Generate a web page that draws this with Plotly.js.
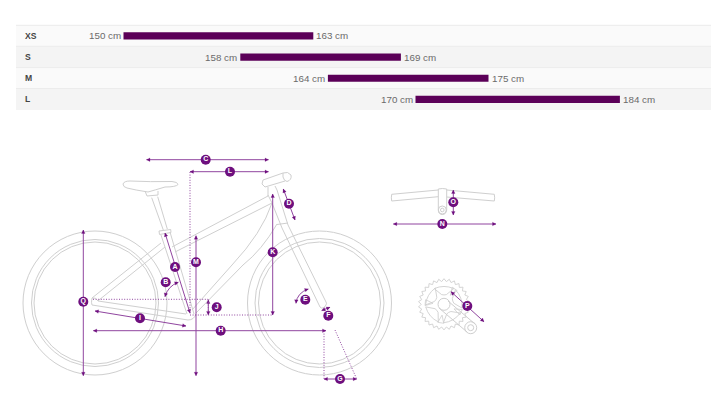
<!DOCTYPE html>
<html><head><meta charset="utf-8">
<script src="https://cdn.plot.ly/plotly-3.0.1.min.js"></script>
<style>html,body{margin:0;padding:0;background:#fff}#c{width:720px;height:407px}</style>
</head><body><div id="c"></div>
<script>
// ---- size chart data ----
const sizes = ['XS','S','M','L'];
const minHeight = [150,158,164,170];
const maxHeight = [163,169,175,184];
const unit = 'cm';

// ---- measurement callouts of the bike drawing ----
const letters = ['A','B','C','D','E','F','G','H','I','J','K','L','M','N','O','P','Q'];
const letterX = [175,165.7,205.7,289,305.3,328.3,340,220.7,140,216.7,272.7,230,196,442.3,453.3,467.3,83.3];
const letterY = [267,282.3,159.7,203.7,299.7,315.7,379,330.7,318.3,307.3,252.3,171.7,262.3,224,202.3,306,301.7];
// straight measure arrows: x1,y1,x2,y2, heads at both ends
const arrows = [
 [146.5,159.7,268.5,159.7],[190,171.7,268.5,171.7],[272.7,194,272.7,315],
 [283.3,189,295,220],[196,235.7,196,375.7],[83.3,230,83.3,375.7],
 [165,233,190,313],[95,311,186,326],[93.3,330.7,326,330.7],
 [208.3,300,208.3,315],[321.7,310.5,330,307.3],[324,379,356.7,379],
 [453.3,190,453.3,215],[393.3,224,496,224],[451,291.7,484,321.7]
];
const dottedLines = [
 [190,172,190,315],[190,315,272,315],[93,299.3,208,299.3],[208.3,299.3,208.3,312],
 [324,331,324,379],[335,330,356.7,379]
];
// curved arrows: start, control, end
const curvedArrows = [
 [165,296.7,168,286,178.3,282.3],
 [296,303.3,297,293,308.3,289]
];
// ---- line work of the bike ----
const wheels = [[95,303,72],[95,303,63.5],[95,303,61],[319.5,303,72],[319.5,303,64.5],[319.5,303,61]];
const bikeFrame = [
 'M123,184 Q124,181 130,181 Q150,182 172,181.5 Q178,182 178,184.5 Q176,187 165,187 Q155,190 148,192 Q135,190 127,188 Q123,187 123,184 Z',
 'M145,191 L147,196 L158,195 L158,191',
 'M151.7,197.7 L163.3,230','M157.7,196.7 L167.3,229',
 'M159,231 L170.7,229.5 L171,232.5 L159.5,234.5 Z',
 'M161,235 L187,314','M170,232 L194,314',
 'M172,247 L268,196','M175,252 L272,203',
 'M268,195 L272,203 L282,228','M277,190 L288,225','M268,196 L268,187','M277,190 L275,186',
 'M277,224.5 L288,223',
 'M282,228 L320,307 Q323,310 326,305 Q327,303 326,302 L288,225',
 'M272,203 Q262,233 232,265 L192,310','M277,224 Q262,250 243,265 L196,313',
 'M98,301 L186,314','M92,305 L188,320 Q194,320 196,314',
 'M92,298 L161,243','M99,300 L165,247',
 'M92,298 Q91,303 92,305','M92,298 Q96,297 98,301','M98,301 L99,300',
 'M263,180 L283,173','M265,187 L285,181','M263,180 L262,184 L265,187',
 'M283,173 Q288,171 291,175 Q292,180 287,181.5 Q284,181 283,177 Q283,175 283,173'
];
const handlebar = [
 'M438.3,190 L391.7,194.3 Q391,198 391.7,201 L438.3,196.7',
 'M446.7,190 L494.3,194.3 Q495,198 494.3,201 L446.7,197',
 'M438.3,189 Q442.3,188 446.7,189 L446.7,210 Q446,214.5 442.3,214.5 Q438.7,214.5 438.3,210 Z'
];
const handlebarCircles = [[442.3,210,1.8]];
const crankCentre = [444,304.3];
const crankCircles = [[444,304.3,6],[470.7,327.7,6],[470.7,327.7,3]];
const crankArm = ['M439,308 L467,332','M448,301 L475,324'];
const ringTeeth = 30;
const windowAngles = [-150,-90,-20,60,140];
const gapAngles = [-175,-55,25,100];

// ---- layout constants ----
const W=720,H=407, INK='#cfcfcf', PURPLE='#90459f', BADGE='#6e0f7e', BAR='#5b0058', TXT='#6a6a6a';
const shapes=[];
const px=(o)=>Object.assign({xref:'x2',yref:'y2',layer:'below'},o);

// table rows: paper-referenced so they sit beneath every subplot
const rowEdges=[25.3,46.3,67.6,88.5,110];
const rowFill=['#fafafa','#f4f4f4','#fafafa','#f4f4f4'];
const pp=(x0,x1,y0,y1)=>({xref:'paper',yref:'paper',layer:'below',x0:x0/W,x1:x1/W,y0:1-y0/H,y1:1-y1/H});
sizes.forEach((s,i)=>shapes.push(Object.assign(pp(16,711,rowEdges[i],rowEdges[i+1]),{type:'rect',fillcolor:rowFill[i],line:{width:0}})));
rowEdges.slice(0,4).forEach(y=>shapes.push(Object.assign(pp(16,711,y,y),{type:'line',line:{color:'#ececec',width:1}})));

const greyPath=(d,w)=>shapes.push(px({type:'path',path:d,line:{color:INK,width:w||1}}));
const greyCircle=(c,w)=>shapes.push(px({type:'circle',x0:c[0]-c[2],x1:c[0]+c[2],y0:c[1]-c[2],y1:c[1]+c[2],line:{color:INK,width:w||1}}));

wheels.forEach(c=>greyCircle(c));
bikeFrame.forEach(d=>greyPath(d));
handlebar.forEach(d=>greyPath(d));
handlebarCircles.forEach(c=>greyCircle(c));
handlebarCircles.forEach(c=>greyCircle([c[0],c[1],4]));

// chainring outline
(function(){
 const [cx,cy]=crankCentre; let d='';
 for(let i=0;i<ringTeeth*2;i++){
  const a=i*Math.PI/ringTeeth, r=i%2?25.6:22.8;
  d+=(i?'L':'M')+(cx+r*Math.cos(a)).toFixed(1)+','+(cy+r*Math.sin(a)).toFixed(1)+' ';
 }
 greyPath(d+'Z',0.9);
 const P=(r,deg)=>{const a=deg*Math.PI/180;return (cx+r*Math.cos(a)).toFixed(1)+','+(cy+r*Math.sin(a)).toFixed(1);};
 windowAngles.forEach(t=>greyPath('M'+P(10,t-14)+' L'+P(18.5,t-32)+' Q'+P(20,t)+' '+P(18.5,t+32)+' L'+P(10,t+14)+' Q'+P(9,t)+' '+P(10,t-14)+' Z',0.9));
 gapAngles.forEach(t=>greyPath('M'+P(11,t)+' L'+P(19,t-9)+' L'+P(19,t+9)+' Z',0.8));
})();
crankCircles.forEach(c=>greyCircle(c));
crankArm.forEach(d=>greyPath(d));

// purple marks
function head(x,y,dx,dy){
 const L=Math.hypot(dx,dy), ux=dx/L, uy=dy/L, bx=x-ux*3.5, by=y-uy*3.5;
 shapes.push(px({type:'path',path:`M${x},${y} L${bx-uy*1.8},${by+ux*1.8} L${bx+uy*1.8},${by-ux*1.8} Z`,fillcolor:BADGE,line:{color:BADGE,width:0.2}}));
}
arrows.forEach(a=>{
 shapes.push(px({type:'line',x0:a[0],y0:a[1],x1:a[2],y1:a[3],line:{color:PURPLE,width:1}}));
 head(a[2],a[3],a[2]-a[0],a[3]-a[1]); head(a[0],a[1],a[0]-a[2],a[1]-a[3]);
});
dottedLines.forEach(a=>shapes.push(px({type:'line',x0:a[0],y0:a[1],x1:a[2],y1:a[3],line:{color:PURPLE,width:1,dash:'1px,1.6px'}})));
curvedArrows.forEach(a=>{
 shapes.push(px({type:'path',path:`M${a[0]},${a[1]} Q${a[2]},${a[3]} ${a[4]},${a[5]}`,line:{color:PURPLE,width:1}}));
 head(a[0],a[1],a[0]-a[2],a[1]-a[3]); head(a[4],a[5],a[4]-a[2],a[5]-a[3]);
});

const font='"Liberation Sans", Arial, sans-serif';
const annotations=[];
sizes.forEach((s,i)=>{
 annotations.push({xref:'x2',yref:'y',x:25,y:s,xshift:-2,text:'<b>'+s+'</b>',showarrow:false,xanchor:'left',font:{family:font,size:8.6,color:'#444'}});
 annotations.push({xref:'x',yref:'y',x:minHeight[i],y:s,text:minHeight[i]+' '+unit,showarrow:false,xanchor:'right',xshift:-1,font:{family:font,size:9.8,color:TXT}});
 annotations.push({xref:'x',yref:'y',x:maxHeight[i],y:s,text:maxHeight[i]+' '+unit,showarrow:false,xanchor:'left',xshift:1,font:{family:font,size:9.8,color:TXT}});
});

const traces=[
 {type:'bar',orientation:'h',y:sizes,base:minHeight,x:maxHeight.map((v,i)=>v-minHeight[i]),
  marker:{color:BAR,line:{width:0}},width:0.34,xaxis:'x',yaxis:'y',hoverinfo:'skip'},
 {type:'scatter',mode:'markers+text',x:letterX,y:letterY,text:letters.map(l=>'<b>'+l+'</b>'),
  textposition:'middle center',textfont:{family:font,size:7,color:'#fff'},
  marker:{size:10,color:BADGE,line:{width:0}},xaxis:'x2',yaxis:'y2',hoverinfo:'skip',cliponaxis:false}
];
const layout={
 width:W,height:H,margin:{l:0,r:0,t:0,b:0},paper_bgcolor:'#fff',plot_bgcolor:'rgba(0,0,0,0)',showlegend:false,
 xaxis:{domain:[0,1],range:[141.541,190.856],visible:false,fixedrange:true},
 yaxis:{domain:[1-110/H,1-25.3/H],type:'category',categoryorder:'array',categoryarray:sizes,range:[3.5,-0.5],visible:false,fixedrange:true},
 xaxis2:{domain:[0,1],range:[0,W],visible:false,fixedrange:true,anchor:'y2'},
 yaxis2:{domain:[0,1],range:[H,0],visible:false,fixedrange:true,anchor:'x2'},
 shapes,annotations
};
Plotly.newPlot('c',traces,layout,{displayModeBar:false,staticPlot:true});
</script></body></html>
